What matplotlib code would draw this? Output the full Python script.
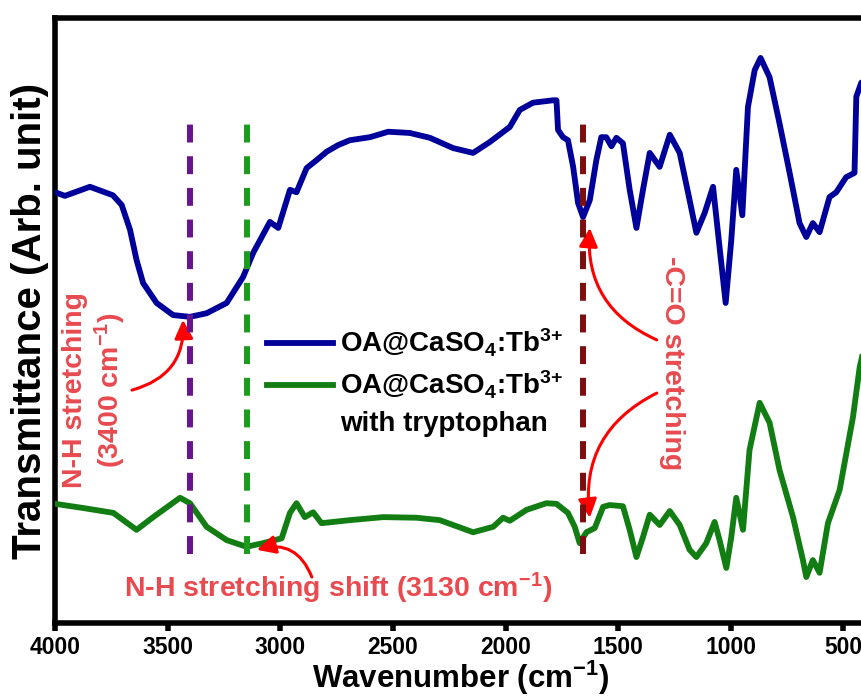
import matplotlib
matplotlib.use('Agg')
import matplotlib.pyplot as plt
from matplotlib.lines import Line2D

plt.rcParams['font.family'] = ['Liberation Sans', 'DejaVu Sans']
plt.rcParams['font.weight'] = 'bold'
plt.rcParams['mathtext.default'] = 'regular'

# FTIR spectra (wavenumber in cm-1, transmittance in arb. unit)
wn_blue = [4000, 3956, 3845, 3743, 3704, 3667, 3638, 3609, 3549, 3476, 3401, 3327, 3238, 3165,
           3120, 3046, 3009, 2957, 2928, 2883, 2839, 2794, 2743, 2691, 2602, 2521, 2425, 2336,
           2233, 2144, 2070, 1981, 1937, 1878, 1789, 1774, 1767, 1745, 1723, 1700, 1678, 1656,
           1626, 1597, 1575, 1553, 1530, 1508, 1479, 1449, 1419, 1390, 1360, 1316, 1271, 1227,
           1183, 1153, 1116, 1079, 1050, 1023, 998, 976, 949, 924, 894, 868, 828, 784, 739, 695,
           665, 636, 606, 562, 532, 488, 451, 443, 421, 400]
tr_blue = [71.2, 70.6, 72.1, 70.7, 69.1, 65.0, 60.0, 56.2, 52.9, 50.9, 50.6, 51.2, 52.9, 57.2,
           61.2, 66.3, 65.3, 71.6, 71.2, 75.2, 76.5, 77.9, 79.0, 79.8, 80.3, 81.2, 81.0, 80.2,
           78.5, 77.7, 79.5, 82.0, 84.8, 86.0, 86.4, 86.4, 81.5, 80.3, 79.8, 75.4, 69.4, 67.1,
           69.9, 76.5, 80.3, 80.3, 78.8, 80.2, 79.3, 71.6, 65.3, 71.6, 77.7, 75.4, 80.7, 77.7,
           69.9, 64.5, 67.8, 72.1, 62.1, 52.9, 63.3, 74.9, 67.4, 85.3, 91.4, 93.4, 90.2, 82.6,
           74.4, 66.1, 63.8, 66.1, 64.6, 70.4, 71.2, 73.7, 74.4, 87.0, 89.3, 89.8]

wn_green = [4000, 3874, 3741, 3638, 3564, 3445, 3401, 3327, 3238, 3150, 3076, 2994, 2957, 2928,
            2891, 2854, 2817, 2691, 2543, 2395, 2292, 2144, 2055, 2011, 1981, 1907, 1819, 1774,
            1723, 1693, 1671, 1641, 1604, 1567, 1538, 1479, 1449, 1419, 1390, 1360, 1316, 1271,
            1227, 1183, 1153, 1109, 1072, 1050, 1020, 998, 976, 946, 917, 872, 828, 784, 724,
            680, 665, 636, 606, 569, 517, 458, 428, 400]
tr_green = [19.7, 19.0, 18.2, 15.4, 17.5, 20.7, 19.8, 15.9, 13.7, 12.6, 13.2, 14.0, 18.2, 19.8,
            17.5, 18.3, 16.5, 17.0, 17.5, 17.4, 17.0, 15.0, 15.9, 17.4, 16.9, 18.7, 19.8, 19.7,
            18.2, 15.9, 13.2, 15.0, 15.7, 19.2, 19.5, 19.3, 15.4, 10.9, 14.2, 17.9, 16.2, 18.5,
            16.2, 12.1, 10.9, 13.2, 16.7, 13.7, 9.1, 14.2, 20.7, 15.4, 28.6, 36.4, 33.1, 25.3,
            17.5, 10.4, 7.6, 10.4, 8.3, 16.5, 22.0, 34.0, 42.3, 46.8]

# marker lines: N-H (3400), shifted N-H, C=O
mark_wn = [3400, 3148, 1656]
mark_colors = ['#6b128f', '#1e9a1e', '#7a0f0f']
mark_top = 82.5
mark_bottom = 11.4

label_blue = 'OA@CaSO$_4$:Tb$^{3{+}}$'
label_green = 'OA@CaSO$_4$:Tb$^{3{+}}$'
label_green2 = 'with tryptophan'
xticks = [4000, 3500, 3000, 2500, 2000, 1500, 1000, 500]

note_red = '#e84a4f'

fig = plt.figure(figsize=(8.62, 6.97), dpi=100)
ax = fig.add_axes([55 / 862, 74 / 697, 811 / 862, 605 / 697])

l1, = ax.plot(wn_blue, tr_blue, color='#00009a', lw=4.2, solid_joinstyle='round', zorder=3)
l2, = ax.plot(wn_green, tr_green, color='#127d12', lw=4.2, solid_joinstyle='round', zorder=3)

for w, c in zip(mark_wn, mark_colors):
    ax.plot([w, w], [mark_bottom, mark_top], color=c, lw=4.3, linestyle=(0, (3, 2.3)), zorder=4)

ax.set_xlim(4000, 400)
ax.set_ylim(0, 100)
ax.set_xticks(xticks)
ax.set_yticks([])
ax.tick_params(axis='x', direction='out', length=6, width=4, labelsize=16.5, pad=3)
for lab in ax.get_xticklabels():
    lab.set_fontweight('bold')
for sp in ax.spines.values():
    sp.set_linewidth(4)

ax.set_xlabel('Wavenumber (cm$^{-1}$)', fontsize=22.5, fontweight='bold', labelpad=0)
ax.set_ylabel('Transmittance (Arb. unit)', fontsize=29, fontweight='bold', labelpad=4)

blank = Line2D([], [], color='none')
ax.legend([l1, l2, blank], [label_blue, label_green, label_green2], loc='upper left',
          bbox_to_anchor=(0.261, 0.49), frameon=False, handlelength=2.4,
          handletextpad=0.25, labelspacing=0.35, borderaxespad=0, borderpad=0,
          prop={'weight': 'bold', 'size': 20})

# annotations
ax.text(3823, 38.5, 'N-H stretching\n(3400 cm$^{-1}$)', rotation=90, color=note_red,
        fontsize=20.5, fontweight='bold', ha='center', va='center', multialignment='center')
ax.text(1263, 43, '-C=O stretching', rotation=270, color=note_red,
        fontsize=20.5, fontweight='bold', ha='center', va='center')
ax.text(2744, 5.8, 'N-H stretching shift (3130 cm$^{-1}$)', color=note_red,
        fontsize=20.5, fontweight='bold', ha='center', va='center')

arrow = dict(arrowstyle='-|>', color='red', lw=2.2, mutation_scale=28, shrinkA=0, shrinkB=0)
ax.annotate('', xy=(3432, 50.1), xytext=(3658, 38.5),
            arrowprops=dict(arrow, connectionstyle='arc3,rad=0.4'))
ax.annotate('', xy=(1626, 65.3), xytext=(1329, 46.8),
            arrowprops=dict(arrow, connectionstyle='arc3,rad=-0.35'))
ax.annotate('', xy=(1626, 17.4), xytext=(1329, 38.0),
            arrowprops=dict(arrow, connectionstyle='arc3,rad=0.35'))
ax.annotate('', xy=(3104, 12.1), xytext=(2860, 7.6),
            arrowprops=dict(arrow, connectionstyle='arc3,rad=0.45'))

fig.savefig('out.png', dpi=100)
